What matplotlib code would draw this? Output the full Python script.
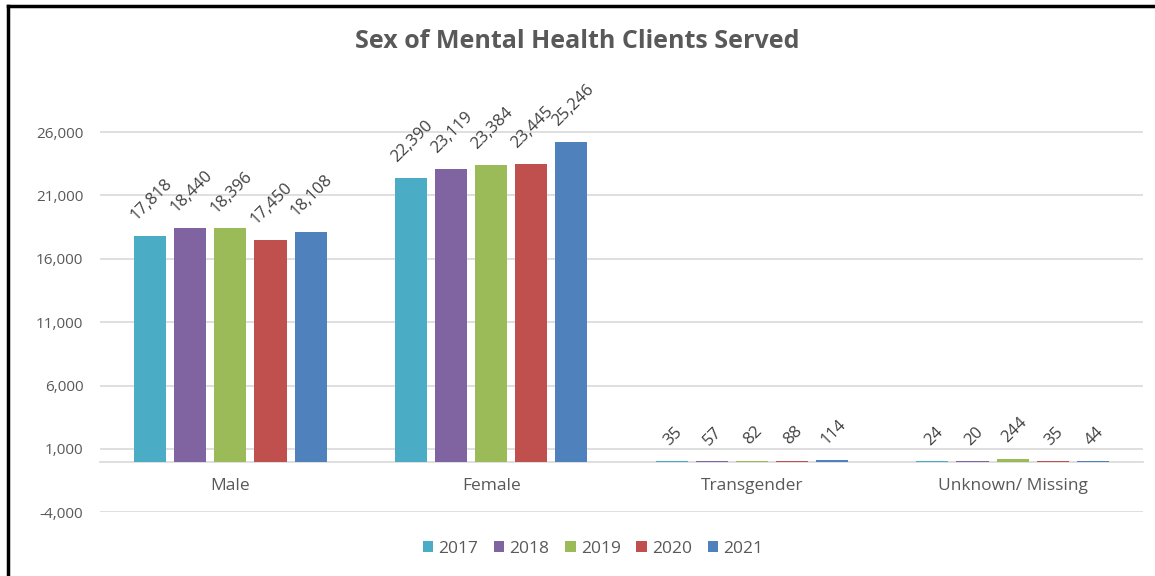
import matplotlib
matplotlib.use('Agg')
import matplotlib.pyplot as plt
import numpy as np

plt.rcParams['font.family'] = ['Open Sans', 'DejaVu Sans']

# data
categories = ['Male', 'Female', 'Transgender', 'Unknown/ Missing']
years = ['2017', '2018', '2019', '2020', '2021']
v2017 = [17818, 22390, 35, 24]
v2018 = [18440, 23119, 57, 20]
v2019 = [18396, 23384, 82, 244]
v2020 = [17450, 23445, 88, 35]
v2021 = [18108, 25246, 114, 44]
series = [v2017, v2018, v2019, v2020, v2021]
colors = ['#4BACC6', '#8064A2', '#9BBB59', '#C0504D', '#4F81BD']
yticks = [-4000, 1000, 6000, 11000, 16000, 21000, 26000]

fig = plt.figure(figsize=(11.55, 5.76), dpi=100)
ax = fig.add_axes([100/1155, 1-512.4/576, 1043/1155, 443.8/576])

# category axis sits on the zero line
for s in ['top', 'right', 'left']:
    ax.spines[s].set_visible(False)
ax.spines['bottom'].set_position(('data', 0))
ax.spines['bottom'].set_color('#D9D9D9')
ax.spines['bottom'].set_linewidth(1.2)
ax.spines['bottom'].set_zorder(2)

x = np.arange(len(categories))
step = 0.154
width = 0.123
for i, (vals, c, yr) in enumerate(zip(series, colors, years)):
    pos = x + (i - 2) * step
    bars = ax.bar(pos, vals, width, color=c, label=yr, zorder=3)
    for b, v in zip(bars, vals):
        ax.annotate('{:,}'.format(v), (b.get_x() + b.get_width()/2, v),
                    xytext=(1, 9), textcoords='offset points',
                    ha='center', va='bottom', rotation=45,
                    fontsize=12, color='#404040')

ax.set_xlim(-0.5, 3.5)
ax.set_ylim(-4000, 31000)
ax.set_yticks(yticks)
ax.set_yticklabels(['{:,}'.format(t) for t in yticks], fontsize=11, color='#595959')
ax.set_xticks(x)
ax.set_xticklabels(categories, fontsize=12.5, color='#595959')
ax.tick_params(axis='both', length=0)
ax.tick_params(axis='y', pad=12)
ax.tick_params(axis='x', pad=12)
ax.grid(axis='y', color='#D9D9D9', linewidth=1.2, zorder=0)

fig.text(0.5, 1-42/576, 'Sex of Mental Health Clients Served', ha='center', va='center',
         fontsize=18, fontweight='bold', color='#595959')

leg = fig.legend(loc='center', bbox_to_anchor=(593/1155, 1-549/576), ncol=5, frameon=False,
                 fontsize=12.5, handlelength=0.6, handleheight=0.6, handletextpad=0.3,
                 columnspacing=0.9)
for t in leg.get_texts():
    t.set_color('#595959')

# border
fig.add_artist(plt.Line2D([8/1155, 8/1155], [0, 1-6/576], color='black', linewidth=2.5))
fig.add_artist(plt.Line2D([8/1155, 1], [1-6/576, 1-6/576], color='black', linewidth=2.5))

fig.savefig('out.png', dpi=100)
